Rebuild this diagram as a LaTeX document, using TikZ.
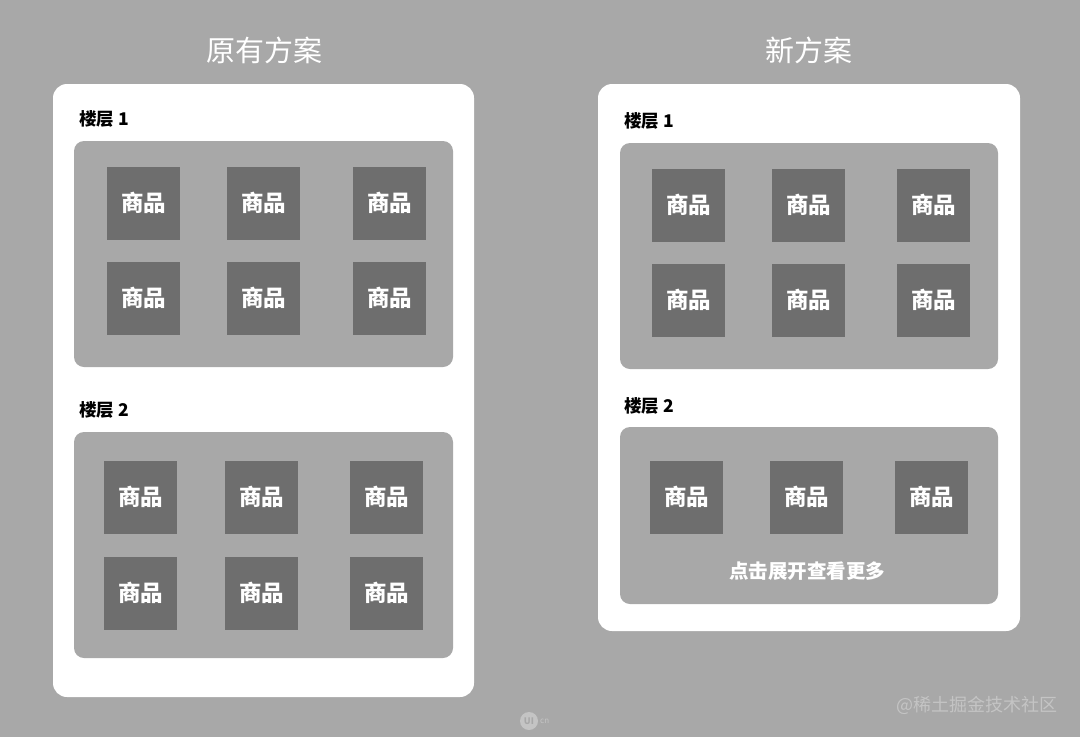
\documentclass[tikz,border=0pt]{standalone}
\usepackage{fontspec}
\setmainfont{Noto Sans CJK SC}
\newfontfamily\cjk{Noto Sans CJK SC}
\definecolor{bg}{HTML}{A8A8A8}
\definecolor{prod}{HTML}{6E6E6E}
\definecolor{wm}{HTML}{C4C4C4}
\begin{document}
\begin{tikzpicture}[x=1pt,y=-1pt,
  card/.style={fill=white,rounded corners=14pt},
  panel/.style={fill=bg,rounded corners=10pt},
  prodbox/.style={fill=prod,minimum width=73pt,minimum height=73pt,inner sep=0pt,text=white,font=\fontsize{22.5}{22.5}\selectfont\bfseries},
  titletext/.style={text=white,font=\fontsize{29}{29}\selectfont,inner sep=0pt},
  floorlabel/.style={anchor=west,inner sep=0pt,font=\fontsize{17.5}{17.5}\selectfont\bfseries,text=black}]
\fill[bg] (0,0) rectangle (1080,737);
\useasboundingbox (0,0) rectangle (1080,737);
% titles
\node[titletext] (t1) at (264,50) {原有方案};
\node[titletext] (t2) at (809,50) {新方案};
% cards
\fill[card] (53,84) rectangle (474,697);
\fill[card] (598,84) rectangle (1020,631);
% left
\node[floorlabel] (l1) at (79,119) {楼层 1};
\fill[panel] (74,141) rectangle (453,367);
\foreach \x [count=\i] in {143.5,263.5,389.5}{
  \node[prodbox] (la\i) at (\x,203) {商品};
  \node[prodbox] (lb\i) at (\x,298) {商品};
}
\node[floorlabel] (l2) at (79,410) {楼层 2};
\fill[panel] (74,432) rectangle (453,658);
\foreach \x [count=\i] in {140.5,261.5,386.5}{
  \node[prodbox] (lc\i) at (\x,497) {商品};
  \node[prodbox] (ld\i) at (\x,593) {商品};
}
% right
\node[floorlabel] (r1) at (624,121) {楼层 1};
\fill[panel] (620,143) rectangle (998,369);
\foreach \x [count=\i] in {688.5,808.5,933.5}{
  \node[prodbox] (ra\i) at (\x,205) {商品};
  \node[prodbox] (rb\i) at (\x,300) {商品};
}
\node[floorlabel] (r2) at (624,406) {楼层 2};
\fill[panel] (620,427) rectangle (998,604);
\foreach \x [count=\i] in {686.5,806.5,931.5}{
  \node[prodbox] (rc\i) at (\x,497) {商品};
}
\node[text=white,font=\fontsize{19.5}{19.5}\selectfont\bfseries,inner sep=0pt] (more) at (807,571) {点击展开查看更多};
% watermarks
\node[text=wm,font=\fontsize{18}{18}\selectfont,inner sep=0pt,anchor=east] (wm1) at (1058,705) {@稀土掘金技术社区};
\node[circle,fill=wm,minimum size=18pt,inner sep=0pt,text=bg,font=\fontsize{9}{9}\selectfont\bfseries] (logo) at (529,721) {UI};
\node[text=wm,font=\fontsize{8}{8}\selectfont,inner sep=0pt,anchor=west] (cn) at (540,721) {cn};
\end{tikzpicture}
\end{document}
